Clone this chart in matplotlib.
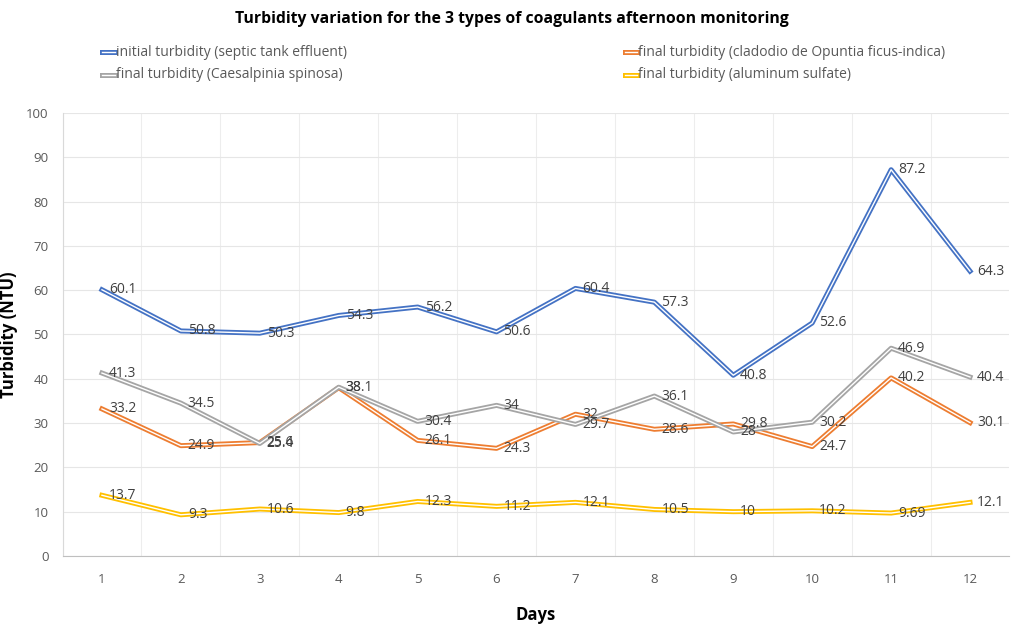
import matplotlib.pyplot as plt
import matplotlib.patheffects as pe
from matplotlib.lines import Line2D

plt.rcParams['font.family'] = ['Open Sans', 'DejaVu Sans']

days = [1, 2, 3, 4, 5, 6, 7, 8, 9, 10, 11, 12]
initial = [60.1, 50.8, 50.3, 54.3, 56.2, 50.6, 60.4, 57.3, 40.8, 52.6, 87.2, 64.3]
opuntia = [33.2, 24.9, 25.6, 38, 26.1, 24.3, 32, 28.6, 29.8, 24.7, 40.2, 30.1]
caesalpinia = [41.3, 34.5, 25.4, 38.1, 30.4, 34, 29.7, 36.1, 28, 30.2, 46.9, 40.4]
aluminum = [13.7, 9.3, 10.6, 9.8, 12.3, 11.2, 12.1, 10.5, 10, 10.2, 9.69, 12.1]

series = [
    ("initial turbidity (septic tank effluent)", initial, "#4472C4"),
    ("final turbidity (cladodio de Opuntia ficus-indica)", opuntia, "#ED7D31"),
    ("final turbidity (Caesalpinia spinosa)", caesalpinia, "#A5A5A5"),
    ("final turbidity (aluminum sulfate)", aluminum, "#FFC000"),
]

fig = plt.figure(figsize=(10.23, 6.3), dpi=100)
ax = fig.add_axes([0.0611, 0.1175, 0.9257, 0.7031])

for name, vals, col in series:
    ax.plot(days, vals, color="white", lw=1,
            path_effects=[pe.Stroke(linewidth=3.6, foreground=col), pe.Normal()])
    for d, v in zip(days, vals):
        ax.annotate(f"{v:g}", (d, v), xytext=(5, 0), textcoords="offset points",
                    ha="left", va="center", fontsize=10, color="#404040")

ax.set_xlim(0.5, 12.5)
ax.set_ylim(0, 100)
ax.set_xticks(days)
ax.set_yticks(range(0, 101, 10))
ax.set_xticks([d + 0.5 for d in range(0, 12)], minor=True)
ax.grid(True, axis="y", color="#E6E6E6", lw=0.8)
ax.grid(True, axis="x", which="minor", color="#EDEDED", lw=0.8)
ax.set_axisbelow(True)
for s in ["top", "right"]:
    ax.spines[s].set_visible(False)
ax.spines["left"].set_color("#D9D9D9")
ax.spines["bottom"].set_color("#BFBFBF")
ax.tick_params(axis="both", which="both", length=0, labelsize=9.5, colors="#595959")
ax.tick_params(axis="x", pad=12)
ax.tick_params(axis="y", pad=10)

ax.set_xlabel("Days", fontsize=12, fontweight="bold")
ax.set_ylabel("Turbidity (NTU)", fontsize=12, fontweight="bold")
ax.xaxis.set_label_coords(0.5, -0.112)
ax.yaxis.set_label_coords(-0.047, 0.5)
fig.suptitle("Turbidity variation for the 3 types of coagulants afternoon monitoring",
             fontsize=11.3, fontweight="bold", y=0.983)

# legend drawn by hand, two columns
legend_pos = [(0.100, 0.917), (0.611, 0.917), (0.100, 0.881), (0.611, 0.881)]
for (name, vals, col), (lx, ly) in zip(series, legend_pos):
    fig.add_artist(Line2D([lx, lx + 0.012], [ly, ly], transform=fig.transFigure,
                          color="white", lw=1,
                          path_effects=[pe.Stroke(linewidth=3.6, foreground=col), pe.Normal()]))
    fig.text(lx + 0.013, ly, name, fontsize=10, color="#595959", va="center")

fig.savefig("out.png", dpi=100, facecolor="white")
